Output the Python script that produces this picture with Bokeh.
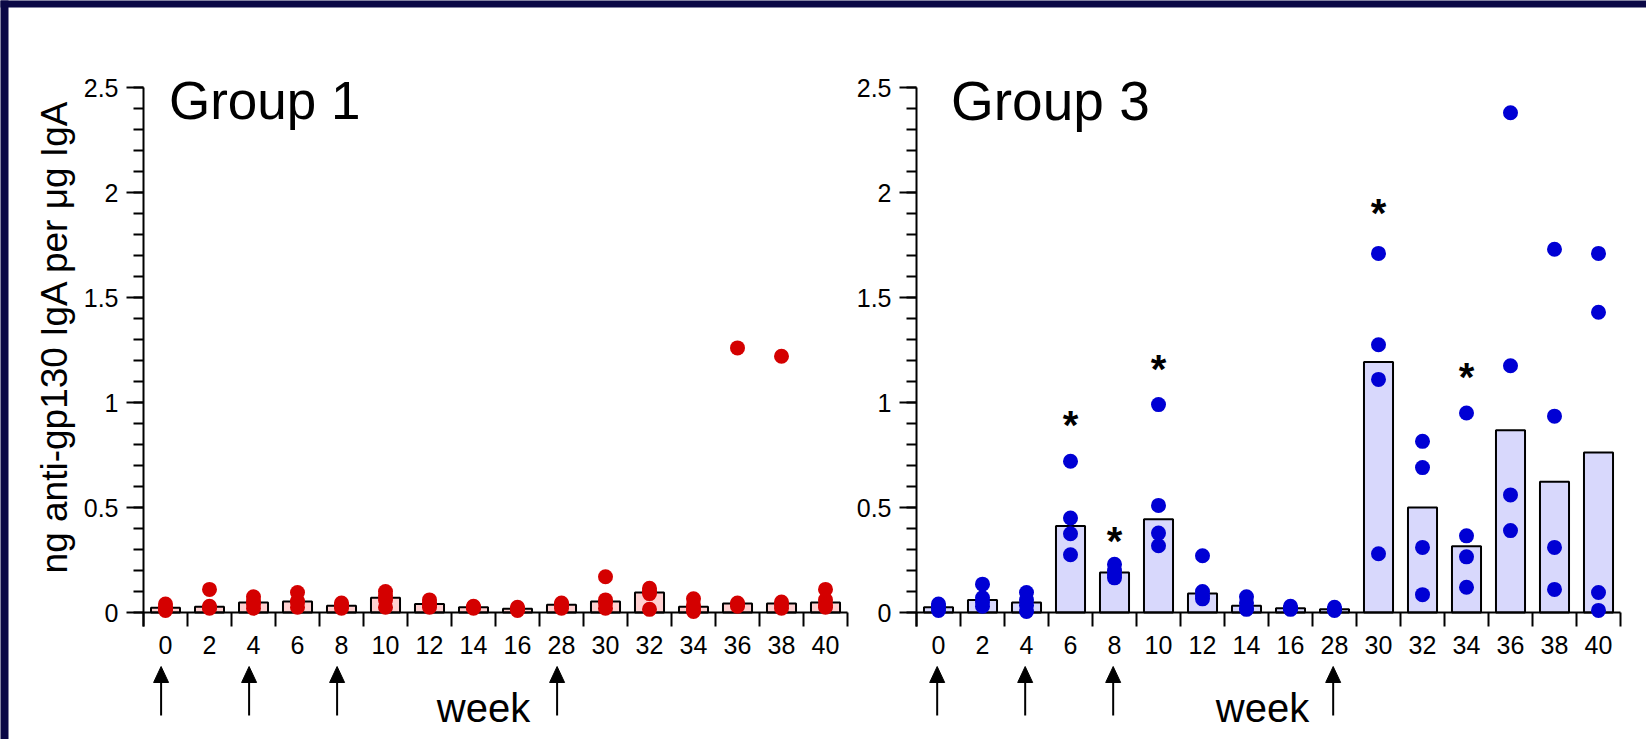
import numpy as np
from bokeh.plotting import figure
from bokeh.models import FixedTicker, Label, Range1d, LinearAxis
from bokeh.embed import file_html
from bokeh.resources import INLINE
from bokeh.core.properties import value

# ---------------- data ----------------
weeks = ["0", "2", "4", "6", "8", "10", "12", "14", "16", "28", "30", "32", "34", "36", "38", "40"]
arrow_weeks = ["0", "4", "8", "28"]

group1_values = [
    [0.04, 0.025, 0.02, 0.01],
    [0.11, 0.03, 0.025, 0.02],
    [0.075, 0.055, 0.04, 0.02],
    [0.095, 0.055, 0.05, 0.025],
    [0.045, 0.035, 0.03, 0.02],
    [0.10, 0.08, 0.06, 0.025],
    [0.06, 0.045, 0.035, 0.025],
    [0.03, 0.025, 0.025, 0.02],
    [0.025, 0.02, 0.015, 0.01],
    [0.045, 0.04, 0.035, 0.02],
    [0.17, 0.06, 0.045, 0.02],
    [0.115, 0.10, 0.09, 0.015],
    [0.065, 0.035, 0.02, 0.005],
    [1.26, 0.045, 0.04, 0.03],
    [1.22, 0.05, 0.035, 0.02],
    [0.11, 0.06, 0.035, 0.025],
]

group3_values = [
    [0.04, 0.03, 0.02, 0.01],
    [0.135, 0.07, 0.05, 0.03],
    [0.095, 0.06, 0.035, 0.005],
    [0.72, 0.45, 0.375, 0.275],
    [0.23, 0.20, 0.18, 0.165],
    [0.99, 0.51, 0.378, 0.318],
    [0.27, 0.10, 0.08, 0.065],
    [0.075, 0.045, 0.02, 0.015],
    [0.03, 0.02, 0.02, 0.015],
    [0.025, 0.015, 0.015, 0.01],
    [1.71, 1.275, 1.11, 0.28],
    [0.815, 0.69, 0.31, 0.085],
    [0.95, 0.365, 0.265, 0.12],
    [2.38, 1.175, 0.56, 0.39],
    [1.73, 0.935, 0.31, 0.11],
    [1.71, 1.43, 0.095, 0.01],
]

group3_star_weeks = ["6", "8", "10", "30", "34"]
group3_star_heights = [0.92, 0.37, 1.19, 1.93, 1.15]

y_ticks = [0, 0.5, 1, 1.5, 2, 2.5]
y_tick_labels = ["0", "0.5", "1", "1.5", "2", "2.5"]

# ---------------- layout / style ----------------
FONT = "Liberation Sans"
NAVY = "#0b0846"
PAGE_W, PAGE_H = 1646, 739
PX_X = 44.0            # pixels per category
PX_Y = 210.0           # pixels per unit of y
ZERO_Y = 612.0         # page y of the value 0
Y_BOTTOM = -14 / PX_Y  # lower end of the y axis line
AXIS1_X, AXIS3_X = 143, 916   # page x of the two y axes


def dy(page_y):
    return (ZERO_Y - page_y) / PX_Y


def dx1(page_x):
    return (page_x - AXIS1_X) / PX_X - 0.5


def dx3(page_x):
    return (page_x - AXIS3_X) / PX_X - 0.5


p = figure(width=PAGE_W, height=PAGE_H,
           x_range=Range1d(dx1(0), dx1(PAGE_W)),
           y_range=Range1d(dy(PAGE_H), dy(0)),
           output_backend="svg", toolbar_location=None,
           min_border_left=0, min_border_right=0,
           min_border_top=0, min_border_bottom=0,
           background_fill_color="white", border_fill_color="white",
           outline_line_color=None)
p.extra_x_ranges = {"g3": Range1d(dx3(0), dx3(PAGE_W))}
p.grid.visible = False

# navy frame bands of the original image (top and left edges)
p.quad(left=dx1(-6), right=dx1(PAGE_W + 6), bottom=dy(7), top=dy(-6),
       fill_color=NAVY, line_color=None)
p.quad(left=dx1(-6), right=dx1(8), bottom=dy(PAGE_H + 6), top=dy(-6),
       fill_color=NAVY, line_color=None)


def style_x_axis(xa, n):
    xa.fixed_location = 0
    xa.bounds = (-0.5, n - 0.5)
    xa.ticker = FixedTicker(ticks=list(range(n)), minor_ticks=[i - 0.5 for i in range(n + 1)])
    xa.major_label_overrides = {i: w for i, w in enumerate(weeks)}
    xa.axis_line_width = 2
    xa.axis_line_color = "black"
    xa.major_tick_out = 0
    xa.major_tick_in = 0
    xa.minor_tick_out = 14
    xa.minor_tick_in = 0
    xa.minor_tick_line_width = 2
    xa.minor_tick_line_color = "black"
    xa.major_label_text_font = FONT
    xa.major_label_text_font_size = "25px"
    xa.major_label_text_color = "black"
    xa.major_label_standoff = 9


def style_y_axis(ya, loc):
    ya.fixed_location = loc
    ya.bounds = (Y_BOTTOM, 2.5)
    ya.ticker = FixedTicker(ticks=y_ticks, minor_ticks=[round(0.1 * k, 1) for k in range(26)])
    ya.major_label_overrides = dict(zip(y_ticks, y_tick_labels))
    ya.axis_line_width = 2
    ya.axis_line_color = "black"
    ya.major_tick_out = 17
    ya.major_tick_in = 0
    ya.major_tick_line_width = 2
    ya.minor_tick_out = 10
    ya.minor_tick_in = 0
    ya.minor_tick_line_width = 2
    ya.minor_tick_line_color = "black"
    ya.major_label_text_font = FONT
    ya.major_label_text_font_size = "25px"
    ya.major_label_text_color = "black"
    ya.major_label_standoff = 8


def draw_panel(range_name, dx, title, title_size, title_px, week_px, values,
               bar_fill, dot_color, arrow_dx, stars=None, star_heights=None):
    n = len(weeks)
    idx = list(range(n))
    rn = {"x_range_name": range_name}

    medians = [float(np.median(v)) for v in values]
    p.vbar(x=idx, top=medians, bottom=0, width=0.66,
           fill_color=bar_fill, line_color="black", line_width=2, **rn)

    xs, ys = [], []
    for i, v in enumerate(values):
        xs += [i] * len(v)
        ys += v
    dots = p.scatter(xs, ys, size=15, fill_color=dot_color, line_color=None, **rn)
    dots.level = "annotation"

    if stars:
        sx = [weeks.index(w) for w in stars]
        p.text(x=sx, y=star_heights, text=["*"] * len(sx),
               text_font=value(FONT), text_font_style="bold",
               text_font_size="40px", text_align="center",
               text_baseline="middle", y_offset=6, text_color="black", **rn)

    # panel title and "week" label
    p.add_layout(Label(x=dx(title_px), y=dy(100), text=title, text_font=FONT,
                       text_font_size=title_size, text_color="black",
                       text_baseline="alphabetic", text_align="left", **rn))
    p.add_layout(Label(x=dx(week_px), y=dy(707), text="week", text_font=FONT,
                       text_font_size="40px", text_color="black",
                       text_baseline="alphabetic", text_align="center", **rn))

    # immunisation arrows: shaft + filled head
    ax = [weeks.index(w) + arrow_dx for w in arrow_weeks]
    p.segment(x0=ax, y0=[dy(715)] * len(ax), x1=ax, y1=[dy(680)] * len(ax),
              line_color="black", line_width=2, **rn)
    half = 7.5 / PX_X
    p.patches(xs=[[a - half, a, a + half] for a in ax],
              ys=[[dy(682), dy(666), dy(682)] for _ in ax],
              fill_color="black", line_color="black", line_width=1, **rn)


# ---- Group 1 (default x range) ----
style_x_axis(p.xaxis[0], len(weeks))
style_y_axis(p.yaxis[0], -0.5)
draw_panel("default", dx1, "Group 1", "53px", 168.5, 483, group1_values,
           "#ffd0d0", "#d40000", arrow_dx=-0.1)
p.add_layout(Label(x=dx1(54), y=dy(336), text="ng anti-gp130 IgA per \u03bcg IgA",
                   text_font=FONT, text_font_size="37px", text_color="black",
                   angle=np.pi / 2, text_align="center", text_baseline="middle"))

# ---- Group 3 (extra x range) ----
xa3 = LinearAxis(x_range_name="g3")
p.add_layout(xa3, "below")
style_x_axis(xa3, len(weeks))
ya3 = LinearAxis()
p.add_layout(ya3, "left")
style_y_axis(ya3, dx1(AXIS3_X))
draw_panel("g3", dx3, "Group 3", "55px", 950.5, 1262, group3_values,
           "#d8d8fc", "#0000d4", arrow_dx=-0.03,
           stars=group3_star_weeks, star_heights=group3_star_heights)

open("out.html", "w").write(file_html(p, INLINE, title="anti-gp130 IgA"))
